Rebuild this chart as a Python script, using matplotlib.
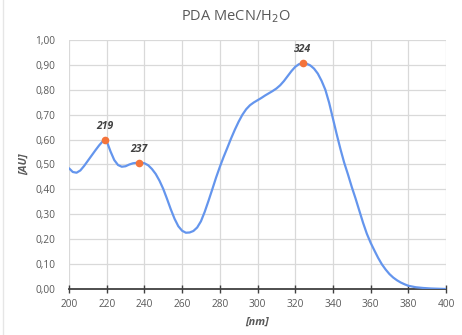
import matplotlib
matplotlib.use("Agg")
import matplotlib.pyplot as plt
from matplotlib.lines import Line2D
from matplotlib.ticker import MultipleLocator, FuncFormatter

# Wavelength [nm] and absorbance [AU]
wavelength = [200, 202, 204, 206, 208, 210, 212, 214, 216, 218, 219, 220, 222, 224, 226, 228,
              230, 232, 234, 236, 237, 238, 240, 242, 244, 246, 248, 250, 252, 254, 256, 258,
              260, 262, 264, 266, 268, 270, 272, 274, 276, 278, 280, 282, 284, 286, 288, 290,
              292, 294, 296, 298, 300, 302, 304, 306, 308, 310, 312, 314, 316, 318, 320, 322,
              324, 326, 328, 330, 332, 334, 336, 338, 340, 342, 344, 346, 348, 350, 352, 354,
              356, 358, 360, 362, 364, 366, 368, 370, 372, 374, 376, 378, 380, 384, 388, 392,
              396, 400]
absorbance = [0.485, 0.470, 0.467, 0.476, 0.494, 0.515, 0.536, 0.557, 0.577, 0.594, 0.600, 0.594,
              0.553, 0.518, 0.498, 0.491, 0.493, 0.500, 0.505, 0.507, 0.508, 0.508, 0.505, 0.497,
              0.482, 0.462, 0.435, 0.402, 0.362, 0.320, 0.282, 0.252, 0.234, 0.226, 0.227, 0.233,
              0.247, 0.272, 0.310, 0.354, 0.400, 0.447, 0.490, 0.530, 0.567, 0.605, 0.640, 0.672,
              0.700, 0.722, 0.738, 0.749, 0.758, 0.767, 0.777, 0.786, 0.795, 0.805, 0.818, 0.835,
              0.855, 0.875, 0.892, 0.903, 0.908, 0.905, 0.898, 0.885, 0.865, 0.836, 0.800, 0.748,
              0.685, 0.622, 0.562, 0.507, 0.460, 0.410, 0.364, 0.315, 0.266, 0.222, 0.186, 0.155,
              0.125, 0.099, 0.078, 0.060, 0.046, 0.035, 0.026, 0.019, 0.013, 0.007, 0.004, 0.002,
              0.001, 0.000]

peak_nm = [219, 237, 324]
peak_au = [0.600, 0.508, 0.908]

title = "PDA MeCN/H$_2$O"
xlabel = "[nm]"
ylabel = "[AU]"

plt.rcParams['font.family'] = ['Open Sans', 'DejaVu Sans']
fig = plt.figure(figsize=(4.62, 3.35), dpi=100)
ax = fig.add_axes([69/462, 1-289/335, 377/462, 249/335])

ax.plot(wavelength, absorbance, color='#6495ED', lw=1.6, zorder=3, solid_capstyle='round')
ax.plot(peak_nm, peak_au, 'o', color='#F4743B', ms=5.5, zorder=4, mec='none')
for x, y in zip(peak_nm, peak_au):
    ax.annotate(str(x), (x, y), xytext=(0, 5.5), textcoords='offset points', ha='center', va='bottom',
                fontsize=7.5, fontweight='bold', fontstyle='italic', color='#404040')

ax.set_xlim(200, 400)
ax.set_ylim(0, 1.0)
ax.xaxis.set_major_locator(MultipleLocator(20))
ax.yaxis.set_major_locator(MultipleLocator(0.1))
ax.yaxis.set_major_formatter(FuncFormatter(lambda v, p: f"{v:.2f}".replace('.', ',')))

ax.grid(True, color='#d9d9d9', lw=0.9)
ax.set_axisbelow(True)
for s in ['top', 'right', 'left']:
    ax.spines[s].set_visible(False)
ax.spines['bottom'].set_color('#404040')
ax.spines['bottom'].set_linewidth(1.3)
ax.spines['bottom'].set_zorder(2)
ax.tick_params(axis='x', direction='inout', length=6, width=1.0, color='#404040',
               labelsize=7.3, labelcolor='#595959', pad=4)
ax.tick_params(axis='y', length=0, labelsize=7.3, labelcolor='#595959', pad=10)

ax.set_xlabel(xlabel, fontsize=7.8, fontweight='bold', fontstyle='italic', color='#595959', labelpad=5)
ax.set_ylabel(ylabel, fontsize=7.8, fontweight='bold', fontstyle='italic', color='#595959', labelpad=4)
fig.text(236/462, 1-17/335, title, ha='center', va='center', fontsize=10.5, color='#595959')

fig.add_artist(Line2D([3/462, 3/462], [0, 1], transform=fig.transFigure, color='#e6e6e6', lw=1))

fig.savefig('out.png', dpi=100)
